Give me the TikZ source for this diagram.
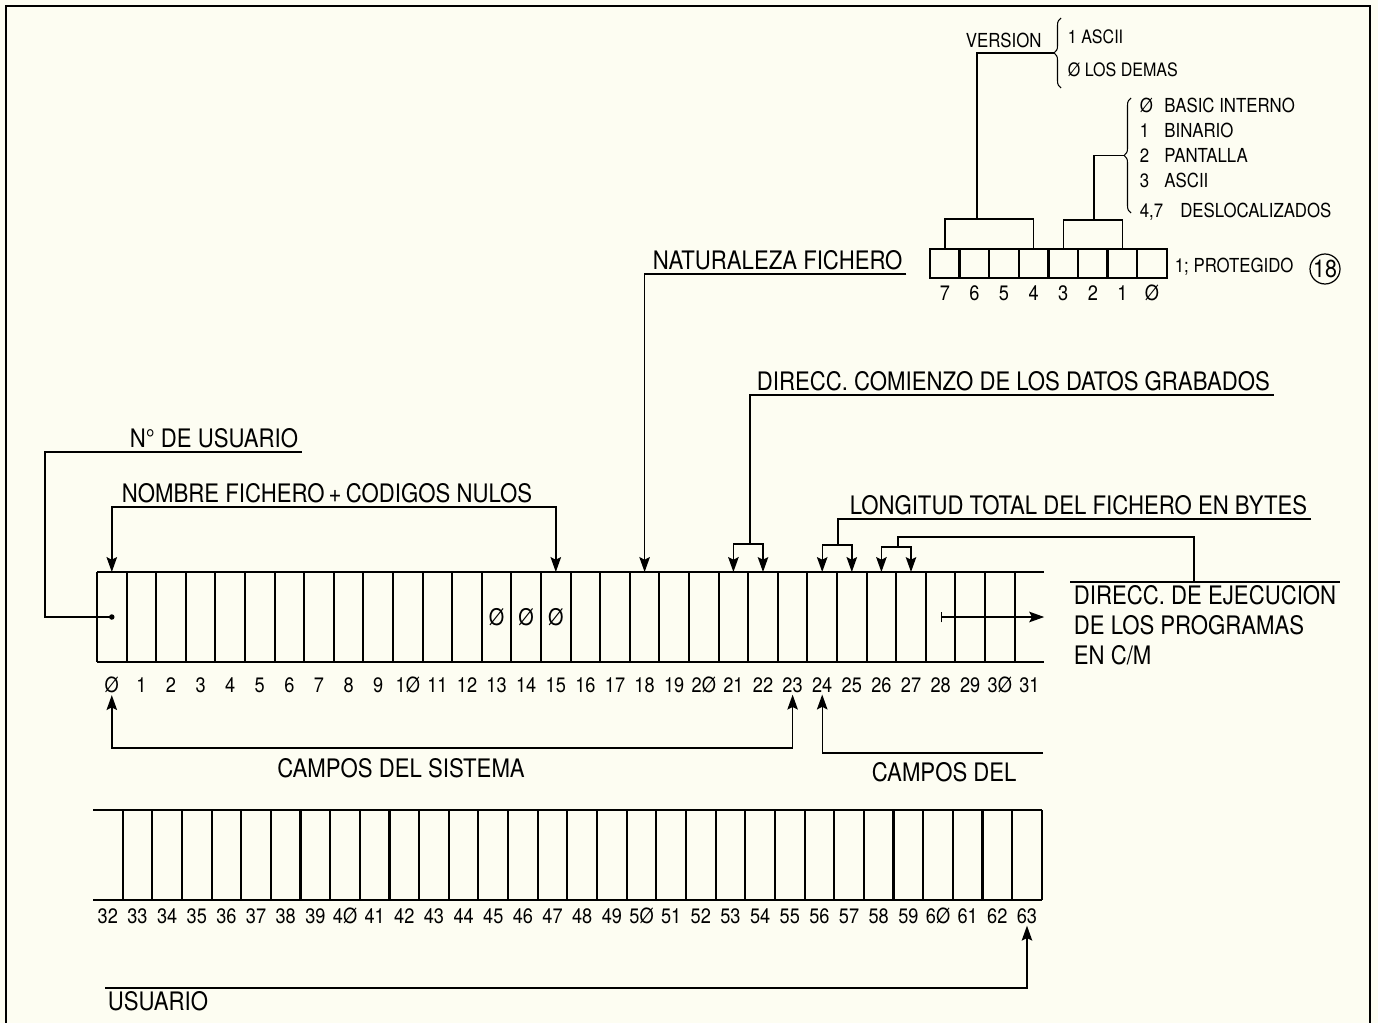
\documentclass[tikz,border=0pt]{standalone}
\usepackage{fontspec}
\setmainfont{TeX Gyre Heros}[FakeStretch=0.87]
\usetikzlibrary{arrows.meta, decorations.pathreplacing}
\definecolor{paper}{RGB}{253,253,242}

\begin{document}
\begin{tikzpicture}[
    x=0.02cm, y=-0.02cm,
    >={Stealth[length=8.5pt, width=6pt, inset=1.5pt]},
    every node/.style={inner sep=2pt},
    big/.style={font=\fontsize{14.5}{17}\selectfont},
    small/.style={font=\fontsize{11}{12}\selectfont},
    tiny/.style={font=\fontsize{10.5}{12}\selectfont},
    num/.style={font=\fontsize{11.9}{14}\selectfont, inner sep=1pt},
    cell/.style={minimum width=0.592cm, minimum height=1.8cm, inner sep=0pt, outer sep=0pt},
    bitcell/.style={draw, line width=1.4pt, minimum width=0.592cm, minimum height=0.58cm, inner sep=0pt, outer sep=0pt},
    wall/.style={line width=1.2pt},
    conn/.style={line width=0.8pt},
    arr/.style={conn, ->},
    twoarr/.style={conn, <->},
    curly/.style={line width=0.6pt, decorate, decoration={brace, amplitude=0.14cm}}
]
\fill[paper] (0,0) rectangle (1378,1023);
\useasboundingbox (0,0) rectangle (1378,1023);
\draw[line width=1.3pt] (6,1023) -- (6,6) -- (1370,6) -- (1370,1023);

% byte row 0..31
\foreach \i in {0,...,31}
    \node[cell] (b\i) at ({97+(\i+0.5)*29.6},617) {};
\draw[wall] (b0.north west) -- (b31.north east) (b0.south west) -- (b31.south east);
\foreach \i in {0,...,31}
    \draw[wall] (b\i.north west) -- (b\i.south west);
\foreach \l [count=\i from 0] in {Ø,1,2,3,4,5,6,7,8,9,1Ø,11,12,13,14,15,16,17,18,19,2Ø,21,22,23,24,25,26,27,28,29,3Ø,31}
    \node[num] (n\i) at (b\i |- 0,685) {\l};
\foreach \i in {13,14,15}
    \node[num, font=\fontsize{13}{15}\selectfont] (z\i) at (b\i) {Ø};

% byte row 32..63
\foreach \i in {32,...,63}
    \node[cell] (w\i) at ({93+(\i-31.5)*29.65},855) {};
\draw[wall] (w32.north west) -- (w63.north east) (w32.south west) -- (w63.south east);
\foreach \i in {32,...,63}
    \draw[wall] (w\i.north east) -- (w\i.south east);
\foreach \l [count=\i from 32] in {32,33,34,35,36,37,38,39,4Ø,41,42,43,44,45,46,47,48,49,5Ø,51,52,53,54,55,56,57,58,59,6Ø,61,62,63}
    \node[num] (m\i) at (w\i |- 0,916) {\l};

% file type byte
\foreach \b/\l [count=\k from 0] in {7/7,6/6,5/5,4/4,3/3,2/2,1/1,0/Ø} {
    \node[bitcell] (bt\b) at ({930+(\k+0.5)*29.6},263.5) {};
    \node[num] (bl\b) at (bt\b |- 0,293) {\l};
}
\node[small, anchor=base west] (prot) at (1171,273) {1; PROTEGIDO};
\node[draw, circle, line width=0.7pt, inner sep=0pt, minimum size=0.6cm, font=\fontsize{14}{15}\selectfont] (fig) at (1325,269) {18};

\node[small, anchor=base west] (ver) at (962,48) {VERSION};
\coordinate (verj) at (977,219);
\coordinate (vertip) at (1054,53);
\draw[conn] (bt7.north) -- ++(0,-30) -| (bt4.north);
\draw[conn] (verj) |- (vertip);
\draw[curly] (1061,88) -- (1061,18);
\node[tiny, anchor=base west] (v1) at (1064,44) {1 ASCII};
\node[tiny, anchor=base west] (v0) at (1064,77) {Ø LOS DEMAS};

\coordinate (typj) at (1094,220);
\coordinate (typtip) at (1124,155.5);
\draw[conn] (bt3.north) -- ++(0,-29) -| (bt1.north);
\draw[conn] (typj) |- (typtip);
\draw[curly] (1131,213) -- (1131,98);
\node[small, anchor=base west] (t0) at (1136,113) {\makebox[14pt][l]{Ø}BASIC INTERNO};
\node[small, anchor=base west] (t1) at (1136,138) {\makebox[14pt][l]{1}BINARIO};
\node[small, anchor=base west] (t2) at (1136,163) {\makebox[14pt][l]{2}PANTALLA};
\node[small, anchor=base west] (t3) at (1136,188) {\makebox[14pt][l]{3}ASCII};
\node[small, anchor=base west] (t4) at (1136,218) {\makebox[23pt][l]{4,7}DESLOCALIZADOS};

% header fields
\node[big, anchor=south west] (usr) at (126,452) {N° DE USUARIO};
\coordinate (usrc) at (45,452);
\fill (b0.center) circle (0.055cm);
\draw[conn] (b0.center) -| (usrc) -- (usr.south east);

\node[big, anchor=south west] (nom) at (118,507) {NOMBRE FICHERO\,+\,CODIGOS NULOS};
\draw[twoarr] (b0.north) |- (nom.south -| b15.north) -- (b15.north);

\node[big, anchor=south west] (nat) at (649,274) {NATURALEZA FICHERO};
\draw[arr] (nat.south east) -- (nat.south west -| b18.north) -- (b18.north);

\node[big, anchor=south west] (dat) at (753,395) {DIRECC. COMIENZO DE LOS DATOS GRABADOS};
\coordinate (datj) at (750,544);
\draw[conn] (dat.south east) -| (datj);
\draw[arr] (datj) -| (b21.north);
\draw[arr] (datj) -| (b22.north);

\node[big, anchor=south west] (lon) at (846,519) {LONGITUD TOTAL DEL FICHERO EN BYTES};
\coordinate (lonj) at (838,545);
\draw[conn] (lon.south east) -| (lonj);
\draw[arr] (lonj) -| (b24.north);
\draw[arr] (lonj) -| (b25.north);

\node[big, anchor=north west, align=left] (exe) at (1070,582) {DIRECC. DE EJECUCION\\DE LOS PROGRAMAS\\EN C/M};
\coordinate (exej) at (898,547);
\coordinate (exec) at (1194,0);
\draw[conn] (exe.north west) -- (exe.north east);
\draw[arr] (exej) -| (b26.north);
\draw[arr] (exej) -| (b27.north);
\draw[conn] (exej) -- ++(0,-10) -| (exe.north -| exec);
\draw[conn, {Bar[width=6pt]}->] (b28.center) -- (b31.east);

% field groups
\coordinate (sysl) at (0,748);
\draw[twoarr] (n0.south) |- (n23.south |- sysl) -- (n23.south);
\node[big, anchor=base] (sys) at (401,777) {CAMPOS DEL SISTEMA};

\coordinate (usrr) at (1043,753);
\draw[arr] (usrr) -| (n24.south);
\node[big, anchor=base west] (cdel) at (868,781) {CAMPOS DEL};

\coordinate (usrb) at (105,988);
\draw[arr] (usrb) -| (m63.south);
\node[big, anchor=base west] (usu) at (104,1010) {USUARIO};
\end{tikzpicture}
\end{document}
